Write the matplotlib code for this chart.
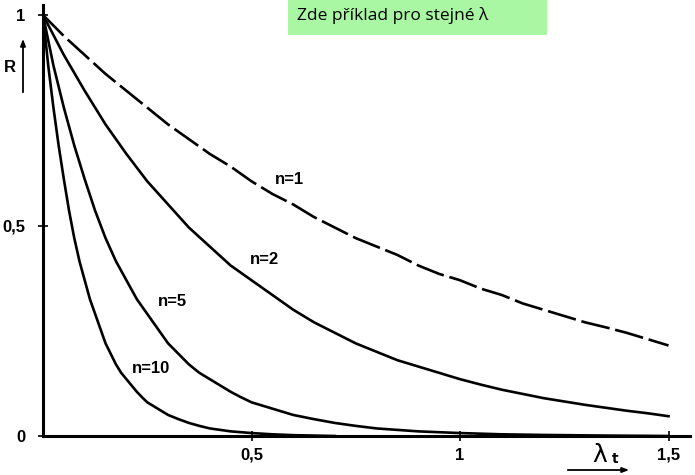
import matplotlib
matplotlib.use("Agg")
import matplotlib.pyplot as plt

# Data (R vs lambda*t)
t_n1 = [0, 0.05, 0.1, 0.15, 0.2, 0.25, 0.3, 0.35, 0.4, 0.45, 0.5, 0.55, 0.6, 0.65, 0.7, 0.75,
        0.8, 0.85, 0.9, 0.95, 1.0, 1.05, 1.1, 1.15, 1.2, 1.25, 1.3, 1.35, 1.4, 1.45, 1.5]
r_n1 = [1, 0.95, 0.905, 0.86, 0.82, 0.78, 0.74, 0.705, 0.67, 0.64, 0.605, 0.575, 0.55, 0.52,
        0.495, 0.47, 0.45, 0.43, 0.405, 0.385, 0.37, 0.35, 0.335, 0.315, 0.30, 0.285, 0.27,
        0.258, 0.245, 0.23, 0.215]

t_n2 = [0, 0.05, 0.1, 0.15, 0.2, 0.25, 0.3, 0.35, 0.4, 0.45, 0.5, 0.55, 0.6, 0.65, 0.7, 0.75,
        0.8, 0.85, 0.9, 0.95, 1.0, 1.05, 1.1, 1.15, 1.2, 1.25, 1.3, 1.35, 1.4, 1.45, 1.5]
r_n2 = [1, 0.905, 0.82, 0.74, 0.67, 0.605, 0.55, 0.495, 0.45, 0.405, 0.37, 0.335, 0.30, 0.27,
        0.245, 0.22, 0.20, 0.18, 0.165, 0.15, 0.135, 0.122, 0.11, 0.10, 0.09, 0.082, 0.074,
        0.067, 0.06, 0.054, 0.047]

t_n5 = [0, 0.025, 0.05, 0.075, 0.1, 0.125, 0.15, 0.175, 0.2, 0.225, 0.25, 0.275, 0.3, 0.325,
        0.35, 0.375, 0.4, 0.425, 0.45, 0.475, 0.5, 0.55, 0.6, 0.65, 0.7, 0.75, 0.8, 0.9, 1.0,
        1.1, 1.2, 1.35, 1.5]
r_n5 = [1, 0.88, 0.78, 0.69, 0.61, 0.535, 0.47, 0.415, 0.37, 0.325, 0.29, 0.255, 0.22, 0.195,
        0.17, 0.15, 0.135, 0.12, 0.105, 0.092, 0.08, 0.065, 0.05, 0.04, 0.031, 0.024, 0.018,
        0.011, 0.007, 0.004, 0.0025, 0.001, 0.0]

t_n10 = [0, 0.0125, 0.025, 0.0375, 0.05, 0.0625, 0.075, 0.0875, 0.1, 0.1125, 0.125, 0.1375,
         0.15, 0.1625, 0.175, 0.1875, 0.2, 0.2125, 0.225, 0.2375, 0.25, 0.275, 0.3, 0.325,
         0.35, 0.375, 0.4, 0.45, 0.5, 0.55, 0.6, 0.7]
r_n10 = [1, 0.88, 0.78, 0.69, 0.61, 0.535, 0.47, 0.415, 0.37, 0.325, 0.29, 0.255, 0.22, 0.195,
         0.17, 0.15, 0.135, 0.12, 0.105, 0.092, 0.08, 0.065, 0.05, 0.04, 0.031, 0.024, 0.018,
         0.011, 0.007, 0.004, 0.002, 0.0]

x_ticks = [0.5, 1.0, 1.5]
x_ticklabels = ["0,5", "1", "1,5"]
y_ticks = [0, 0.5, 1.0]
y_ticklabels = ["0", "0,5", "1"]

labels = ["n=1", "n=2", "n=5", "n=10"]
label_pos = [(0.59, 0.61), (0.53, 0.42), (0.31, 0.32), (0.26, 0.16)]

fig = plt.figure(figsize=(6.95, 4.75), dpi=100)
W, H = 695, 475
x0, y0 = 43, 436
x1, y1 = 690, 5
ax = fig.add_axes([x0 / W, (H - y0) / H, (x1 - x0) / W, (y0 - y1) / H])
ax.set_xlim(0, (x1 - x0) / 417)
ax.set_ylim(0, (y0 - y1) / 421)

lw = 1.9
ax.plot(t_n1, r_n1, color="black", lw=lw, dashes=(11, 2.2), solid_capstyle="butt",
        dash_capstyle="butt")
ax.plot(t_n2, r_n2, color="black", lw=lw)
ax.plot(t_n5, r_n5, color="black", lw=lw)
ax.plot(t_n10, r_n10, color="black", lw=lw)

for s in ["top", "right"]:
    ax.spines[s].set_visible(False)
for s in ["left", "bottom"]:
    ax.spines[s].set_linewidth(2.2)

fp = dict(family="Liberation Sans", weight="bold", size=12)
ax.set_xticks(x_ticks)
ax.set_xticklabels(x_ticklabels, **fp)
ax.set_yticks(y_ticks)
ax.set_yticklabels(y_ticklabels, **fp)
ax.tick_params(axis="both", direction="inout", length=7, width=1.2)
ax.tick_params(axis="y", pad=9)
ax.tick_params(axis="x", pad=5)

for lab, (lx, ly) in zip(labels, label_pos):
    ax.text(lx, ly, lab, ha="center", va="center", **fp)

# R label with arrow
fig.text(10 / W, 1 - 68 / H, "R", ha="center", va="center", **fp)
fig.add_artist(matplotlib.patches.FancyArrowPatch(
    (23 / W, 1 - 95 / H), (23 / W, 1 - 36 / H), transform=fig.transFigure,
    arrowstyle="-|>,head_length=4,head_width=1.5", color="black", lw=1.3))

# lambda t label with arrow
fig.text(600 / W, 1 - 455 / H, "λ", ha="center", va="center",
         family="DejaVu Sans", fontsize=18, color="black")
fig.text(615 / W, 1 - 459 / H, "t", ha="center", va="center",
         family="DejaVu Sans", weight="bold", fontsize=10, color="black")
fig.add_artist(matplotlib.patches.FancyArrowPatch(
    (565 / W, 1 - 470 / H), (632 / W, 1 - 470 / H), transform=fig.transFigure,
    arrowstyle="-|>,head_length=4,head_width=1.5", color="black", lw=1.3))

# green note box
fig.patches.append(matplotlib.patches.Rectangle(
    (288 / W, 1 - 35 / H), (547 - 288) / W, 35 / H, transform=fig.transFigure,
    facecolor="#a9f7a2", edgecolor="none"))
fig.text(297 / W, 1 - 16 / H, "Zde příklad pro stejné λ", ha="left", va="center",
         family="Open Sans", fontsize=12.5, color="black")

fig.savefig("out.png", dpi=100)
